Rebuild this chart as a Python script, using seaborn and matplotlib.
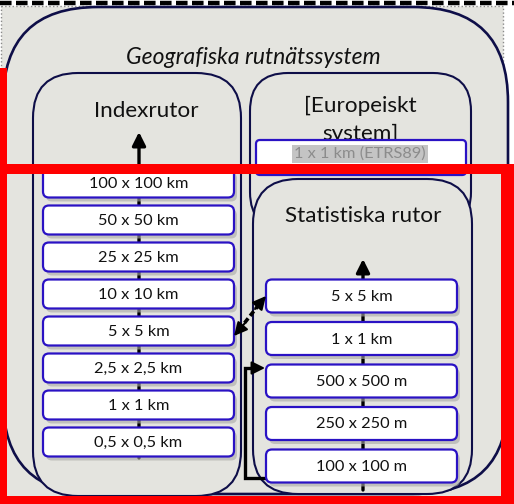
import matplotlib
matplotlib.use("Agg")
import matplotlib.pyplot as plt
import seaborn as sns
from matplotlib.patches import FancyBboxPatch, Rectangle, FancyArrowPatch

# Diagram content
title = "Geografiska rutnätssystem"
index_title = "Indexrutor"
euro_title = "[Europeiskt\nsystem]"
euro_label = "1 x 1 km (ETRS89)"
stat_title = "Statistiska rutor"
index_labels = ['100 x 100 km', '50 x 50 km', '25 x 25 km', '10 x 10 km',
                '5 x 5 km', '2,5 x 2,5 km', '1 x 1 km', '0,5 x 0,5 km']
stat_labels = ['5 x 5 km', '1 x 1 km', '500 x 500 m', '250 x 250 m', '100 x 100 m']

sns.set_theme(style="white")
plt.rcParams['font.family'] = ['Lato', 'DejaVu Sans']

bg = '#e4e4df'
navy = '#0e0e48'
blue = '#2a12c4'

fig = plt.figure(figsize=(5.14, 5.04), dpi=100)
ax = fig.add_axes([0, 0, 1, 1])
ax.set_xlim(0, 514)
ax.set_ylim(504, 0)
ax.axis('off')


def rbox(x0, y0, x1, y1, r, fc, ec, lw, z, ls='-'):
    p = FancyBboxPatch((x0, y0), x1 - x0, y1 - y0,
                       boxstyle=f"round,pad=0,rounding_size={r}",
                       fc=fc, ec=ec, lw=lw, ls=ls, zorder=z)
    ax.add_patch(p)
    return p


def cell(x0, x1, yc, h, text, z=5):
    # soft shadow
    rbox(x0 + 3, yc - h / 2 + 4, x1 + 3, yc + h / 2 + 4, 6, '#a9a9a6', 'none', 0, z - 0.2).set_alpha(0.6)
    rbox(x0, yc - h / 2, x1, yc + h / 2, 6, 'white', blue, 1.6, z)
    ax.text((x0 + x1) / 2, yc + 1, text, ha='center', va='center', fontsize=11.8,
            color='#111111', zorder=z + 1)


# background and top dashed line
ax.add_patch(Rectangle((1, 6), 502, 494, fc=bg, ec='#8a8a8a', lw=1.0, ls=':', zorder=0))
ax.plot([0, 514], [2.5, 2.5], color='black', lw=3.2, ls=(0, (2.6, 1.0)), zorder=1)

# containers
rbox(3, 7, 508, 494, 95, bg, navy, 1.9, 1)
ax.text(253, 57, title, ha='center', va='center', fontsize=16.5, style='italic', color='#111111', zorder=2)

rbox(33, 73, 241, 496, 45, bg, navy, 1.5, 2)
ax.text(146, 111, index_title, ha='center', va='center', fontsize=16.2, color='#111111', zorder=3)

rbox(250, 73, 471, 230, 38, bg, navy, 1.5, 2)
ax.text(360, 120, euro_title, ha='center', va='center', fontsize=16.2, color='#111111',
        linespacing=1.45, zorder=3)
rbox(256, 140, 466, 175, 4, 'white', blue, 1.6, 4)
ax.text(360, 154, euro_label, ha='center', va='center', fontsize=11.8, color='#8c8c8c', zorder=5,
        bbox=dict(boxstyle='square,pad=0.12', fc='#c4c4c4', ec='none'))

rbox(253, 179, 472, 494, 45, bg, navy, 1.5, 2)
ax.text(363, 216, stat_title, ha='center', va='center', fontsize=16.2, color='#111111', zorder=3)

# vertical hierarchy arrows
ax.add_patch(FancyArrowPatch((139, 458), (139, 132), arrowstyle='-|>', mutation_scale=20,
                             color='black', lw=2.4, zorder=3, shrinkA=0, shrinkB=0))
ax.add_patch(FancyArrowPatch((363, 490), (363, 259), arrowstyle='-|>', mutation_scale=20,
                             color='black', lw=2.4, zorder=3, shrinkA=0, shrinkB=0))

# left stack
for i, lab in enumerate(index_labels):
    cell(43, 234, 183 + 37 * i, 29, lab)

# right stack
for i, lab in enumerate(stat_labels):
    cell(266, 457, 296 + 42.5 * i, 33, lab)

# dashed link between the two 5 x 5 km boxes
ax.plot([239, 261], [330, 302], color='black', lw=2.6, ls=(0, (1.6, 0.9)), zorder=6)
for a, b in [((245, 323), (234, 336)), ((255, 309), (266, 296))]:
    ax.add_patch(FancyArrowPatch(a, b, arrowstyle='-|>', mutation_scale=20, color='black',
                                 lw=1.5, zorder=7, shrinkA=0, shrinkB=0))

# elbow connector from 100 x 100 m to 500 x 500 m
ax.plot([268, 245, 245, 252], [478, 478, 368, 368], color='black', lw=2.4, zorder=4,
        solid_joinstyle='miter')
ax.add_patch(FancyArrowPatch((250, 368), (265, 368), arrowstyle='-|>', mutation_scale=20,
                             color='black', lw=1.5, zorder=7, shrinkA=0, shrinkB=0))

# red highlight frame
red = '#ff0000'
for x, y, w, h in [(0, 68, 7, 436), (0, 164, 514, 10), (501, 164, 13, 340), (0, 496, 514, 8)]:
    ax.add_patch(Rectangle((x, y), w, h, fc=red, ec='none', zorder=20))

fig.savefig('out.png', dpi=100)
